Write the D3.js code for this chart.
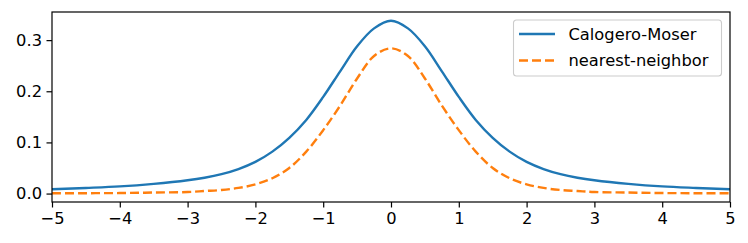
<!DOCTYPE html>
<html>
<head>
<meta charset="utf-8">
<script src="https://cdn.jsdelivr.net/npm/d3@7"></script>
<style>
  html, body { margin: 0; padding: 0; background: #fff; }
  svg { display: block; font-family: "DejaVu Sans", sans-serif; }
</style>
</head>
<body>
<div id="chart"></div>
<script>
// --- Data ---
const xValues = [-5, -4.5, -4, -3.5, -3, -2.75, -2.5, -2.25, -2, -1.75, -1.5, -1.25, -1, -0.75, -0.5, -0.25,
                 0, 0.25, 0.5, 0.75, 1, 1.25, 1.5, 1.75, 2, 2.25, 2.5, 2.75, 3, 3.5, 4, 4.5, 5];
const calogeroMoser = [0.0085, 0.011, 0.014, 0.019, 0.026, 0.031, 0.038, 0.048, 0.062, 0.082, 0.109, 0.144, 0.189, 0.239, 0.288, 0.323,
                       0.338, 0.323, 0.288, 0.239, 0.189, 0.144, 0.109, 0.082, 0.062, 0.048, 0.038, 0.031, 0.026, 0.019, 0.014, 0.011, 0.0085];
const nearestNeighbor = [0.0005, 0.0007, 0.001, 0.002, 0.003, 0.005, 0.007, 0.011, 0.018, 0.030, 0.050, 0.082, 0.124, 0.172, 0.225, 0.269,
                         0.284, 0.269, 0.225, 0.172, 0.124, 0.082, 0.050, 0.030, 0.018, 0.011, 0.007, 0.005, 0.003, 0.002, 0.001, 0.0007, 0.0005];
const xTicks = [-5, -4, -3, -2, -1, 0, 1, 2, 3, 4, 5];
const yTicks = [0.0, 0.1, 0.2, 0.3];
const seriesNames = ["Calogero-Moser", "nearest-neighbor"];
const seriesColors = ["#1f77b4", "#ff7f0e"];

// --- Layout ---
const width = 748, height = 243;
const margin = { top: 12, right: 18, bottom: 41, left: 52 };

const svg = d3.select("#chart").append("svg")
    .attr("width", width)
    .attr("height", height);

const x = d3.scaleLinear()
    .domain([-5, 5])
    .range([margin.left, width - margin.right]);

const y = d3.scaleLinear()
    .domain([-0.0165, 0.355])
    .range([height - margin.bottom, margin.top]);

const fontSize = "16.3px";
const tickLen = 5.5;
const lineW = 2.4;
const dash = "9,4";

// --- Lines ---
const line = (vals) => d3.line()
    .x((d, i) => x(xValues[i]))
    .y(d => y(d))
    .curve(d3.curveCatmullRom.alpha(0.5))(vals);

svg.append("path")
    .attr("d", line(calogeroMoser))
    .attr("fill", "none")
    .attr("stroke", seriesColors[0])
    .attr("stroke-width", lineW);

svg.append("path")
    .attr("d", line(nearestNeighbor))
    .attr("fill", "none")
    .attr("stroke", seriesColors[1])
    .attr("stroke-width", lineW)
    .attr("stroke-dasharray", dash);

// --- Axes ---
const xAxis = svg.append("g")
    .attr("transform", `translate(0,${height - margin.bottom})`)
    .call(d3.axisBottom(x).tickValues(xTicks).tickFormat(d3.format("d"))
        .tickSize(tickLen).tickPadding(4.5));

const yAxis = svg.append("g")
    .attr("transform", `translate(${margin.left},0)`)
    .call(d3.axisLeft(y).tickValues(yTicks).tickFormat(d3.format(".1f"))
        .tickSize(tickLen).tickPadding(4.5));

[xAxis, yAxis].forEach(ax => {
    ax.select(".domain").remove();
    ax.selectAll(".tick line").attr("stroke", "#000").attr("stroke-width", 1.2);
    ax.selectAll(".tick text")
        .attr("fill", "#000")
        .style("font-size", fontSize)
        .style("font-family", "DejaVu Sans");
});

// frame
svg.append("rect")
    .attr("x", margin.left)
    .attr("y", margin.top)
    .attr("width", width - margin.left - margin.right)
    .attr("height", height - margin.top - margin.bottom)
    .attr("fill", "none")
    .attr("stroke", "#000")
    .attr("stroke-width", 1.2);

// --- Legend ---
const legend = svg.append("g").attr("transform", "translate(513.5,20)");
legend.append("rect")
    .attr("width", 208)
    .attr("height", 56)
    .attr("rx", 3)
    .attr("fill", "#fff")
    .attr("fill-opacity", 0.8)
    .attr("stroke", "#cccccc")
    .attr("stroke-width", 1.1);

seriesNames.forEach((name, i) => {
    const row = legend.append("g").attr("transform", `translate(0,${14 + i * 26.5})`);
    row.append("line")
        .attr("x1", 5.5).attr("x2", 41.5)
        .attr("stroke", seriesColors[i])
        .attr("stroke-width", lineW)
        .attr("stroke-dasharray", i === 1 ? dash : null);
    row.append("text")
        .attr("x", 55)
        .attr("dy", "0.35em")
        .style("font-size", fontSize)
        .text(name);
});
</script>
</body>
</html>
